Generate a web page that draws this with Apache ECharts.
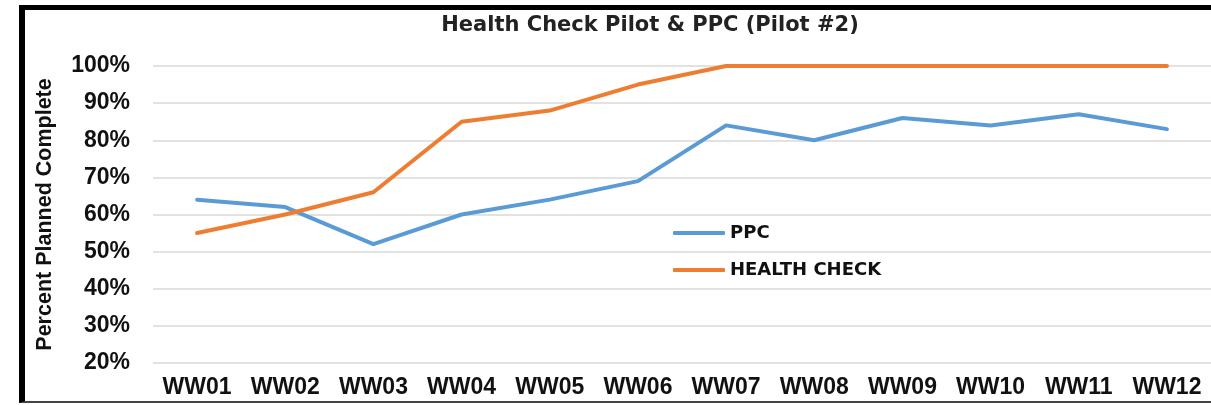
<!DOCTYPE html>
<html>
<head>
<meta charset="utf-8">
<script src="https://cdn.jsdelivr.net/npm/echarts@6/dist/echarts.min.js"></script>
<style>
  html, body { margin: 0; padding: 0; background: #fff; overflow: hidden; }
  #myChart { position: absolute; left: 0; top: 0; width: 1211px; height: 405px; }
  #frame {
    position: absolute; left: 19px; top: 5px; width: 1186px; height: 391px;
    border-left: 6px solid #000; border-top: 5px solid #000; border-bottom: 2px solid #444;
    pointer-events: none;
  }
</style>
</head>
<body>
<div id="myChart"></div>
<div id="frame"></div>
<script>
var weeks = ['WW01','WW02','WW03','WW04','WW05','WW06','WW07','WW08','WW09','WW10','WW11','WW12'];
var ppc = [64, 62, 52, 60, 64, 69, 84, 80, 86, 84, 87, 83];
var healthCheck = [55, 60, 66, 85, 88, 95, 100, 100, 100, 100, 100, 100];

var labelFont = {
    fontFamily: 'Arial, Liberation Sans, sans-serif',
    fontWeight: 'bold',
    fontSize: 23,
    color: '#111'
};

option = {
    backgroundColor: '#fff',
    animation: false,
    title: {
        text: 'Health Check Pilot & PPC (Pilot #2)',
        left: 645,
        textAlign: 'center',
        top: 10,
        textStyle: {
            fontFamily: 'DejaVu Sans',
            fontWeight: 'bold',
            fontSize: 21,
            color: '#222'
        }
    },
    legend: {
        orient: 'vertical',
        left: 668,
        top: 219,
        itemWidth: 52,
        itemHeight: 4,
        itemGap: 19,
        icon: 'roundRect',
        textStyle: {
            fontFamily: 'DejaVu Sans',
            fontWeight: 'bold',
            fontSize: 18,
            color: '#111'
        }
    },
    grid: {
        left: 153,
        top: 66,
        width: 1059,
        height: 297
    },
    xAxis: {
        type: 'category',
        data: weeks,
        axisLine: { show: false },
        axisTick: { show: false },
        axisLabel: Object.assign({ margin: 13, interval: 0 }, labelFont)
    },
    yAxis: {
        type: 'value',
        min: 20,
        max: 100,
        interval: 10,
        name: 'Percent Planned Complete',
        nameLocation: 'middle',
        nameGap: 97,
        nameTextStyle: {
            fontFamily: 'Arial, Liberation Sans, sans-serif',
            fontWeight: 'bold',
            fontSize: 21.5,
            color: '#111'
        },
        axisLabel: Object.assign({ margin: 23, formatter: '{value}%' }, labelFont),
        splitLine: { lineStyle: { color: '#d9d9d9', width: 1.5 } }
    },
    series: [
        {
            name: 'PPC',
            type: 'line',
            data: ppc,
            symbol: 'none',
            itemStyle: { color: '#5B9BD5' },
            lineStyle: { color: '#5B9BD5', width: 4, cap: 'round', join: 'round' }
        },
        {
            name: 'HEALTH CHECK',
            type: 'line',
            data: healthCheck,
            symbol: 'none',
            itemStyle: { color: '#ED7D31' },
            lineStyle: { color: '#ED7D31', width: 4, cap: 'round', join: 'round' }
        }
    ]
};

var myChart = echarts.init(document.getElementById('myChart'));
myChart.setOption(option);
</script>
</body>
</html>
